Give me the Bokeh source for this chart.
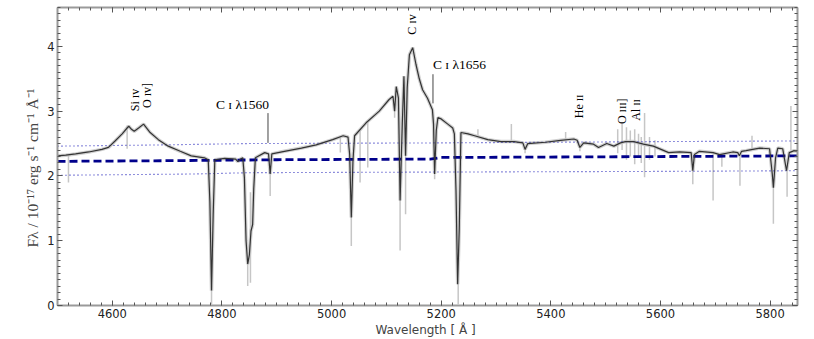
import numpy as np
from bokeh.plotting import figure
from bokeh.models import Range1d, LinearAxis, SingleIntervalTicker
from bokeh.core.properties import value
from bokeh.embed import file_html
from bokeh.resources import INLINE

# ---- smoothed spectrum (wavelength [A], flux [1e-17 erg/s/cm2/A]) ----
wave = [4500, 4515, 4533, 4557, 4581, 4593, 4605, 4618, 4627, 4630, 4635, 4640, 4648,
        4657, 4669, 4684, 4702, 4724, 4744, 4768, 4775, 4778, 4781, 4784, 4787, 4805,
        4825, 4829, 4834, 4838, 4841, 4844, 4847, 4850, 4853, 4856, 4858, 4861, 4878,
        4885, 4888, 4891, 4914, 4945, 4972, 5002, 5021, 5030, 5033, 5036, 5039, 5042,
        5063, 5087, 5105, 5112, 5115, 5118, 5122, 5125, 5129, 5132, 5135, 5138, 5142,
        5148, 5154, 5160, 5166, 5175, 5184, 5186, 5188, 5191, 5194, 5200, 5212, 5221,
        5224, 5227, 5230, 5233, 5236, 5249, 5261, 5285, 5309, 5333, 5349, 5353, 5358,
        5390, 5418, 5442, 5448, 5453, 5460, 5478, 5487, 5502, 5515, 5527, 5536, 5551,
        5569, 5587, 5615, 5635, 5656, 5659, 5662, 5671, 5696, 5708, 5732, 5741, 5744,
        5748, 5756, 5781, 5799, 5804, 5806, 5810, 5814, 5823, 5830, 5835, 5844, 5850]
flux = [2.31, 2.32, 2.34, 2.37, 2.41, 2.44, 2.54, 2.65, 2.74, 2.77, 2.72, 2.69, 2.74,
        2.80, 2.67, 2.56, 2.46, 2.38, 2.31, 2.28, 2.25, 1.60, 0.23, 1.40, 2.25, 2.27,
        2.26, 2.22, 2.26, 2.28, 1.97, 1.00, 0.64, 0.78, 1.15, 1.25, 1.80, 2.28, 2.36,
        2.34, 2.03, 2.34, 2.38, 2.43, 2.48, 2.56, 2.62, 2.60, 2.33, 1.36, 2.23, 2.62,
        2.82, 3.00, 3.18, 3.23, 3.00, 3.38, 3.20, 1.62, 2.80, 3.54, 2.31, 3.36, 3.87,
        3.98, 3.72, 3.50, 3.33, 3.20, 3.02, 2.80, 2.03, 2.70, 2.90, 2.88, 2.80, 2.74,
        2.65, 1.77, 0.33, 1.20, 2.67, 2.65, 2.62, 2.56, 2.53, 2.53, 2.51, 2.41, 2.50,
        2.52, 2.55, 2.57, 2.55, 2.44, 2.51, 2.49, 2.44, 2.50, 2.46, 2.51, 2.53, 2.53,
        2.49, 2.46, 2.36, 2.37, 2.36, 2.08, 2.33, 2.38, 2.36, 2.33, 2.37, 2.36, 2.31,
        2.38, 2.39, 2.43, 2.42, 2.03, 1.82, 2.28, 2.43, 2.42, 2.08, 2.36, 2.39, 2.38]

# ---- raw-spectrum spikes (wavelength, low, high) ----
spike_wave = [4520, 4627, 4781, 4847, 4852, 4888, 5016, 5036, 5052, 5066, 5115, 5125,
              5135, 5188, 5231, 5267, 5328, 5353, 5427, 5453, 5522, 5530, 5538, 5545,
              5553, 5560, 5565, 5571, 5580, 5590, 5659, 5696, 5712, 5745, 5767, 5806,
              5831, 5838]
spike_lo = [1.90, 2.42, 0.02, 0.30, 0.35, 1.69, 2.36, 0.92, 1.90, 2.13, 2.90, 0.85,
            1.41, 1.95, 0.02, 2.62, 2.53, 2.35, 2.55, 2.38, 2.35, 2.40, 2.25, 2.30,
            2.18, 2.30, 2.20, 1.98, 2.25, 2.30, 1.87, 1.62, 2.14, 1.85, 2.40, 1.26,
            1.68, 2.40]
spike_hi = [2.32, 2.78, 0.30, 0.70, 1.75, 2.10, 2.60, 1.40, 2.70, 2.85, 3.10, 1.70,
            2.40, 2.10, 0.40, 2.72, 2.80, 2.45, 2.68, 2.50, 2.72, 2.80, 2.75, 2.70,
            2.72, 2.65, 2.60, 2.97, 2.60, 2.55, 2.10, 2.36, 2.33, 2.31, 2.62, 1.85,
            2.10, 3.08]

# ---- continuum and its envelope ----
cont_wave = [4500, 4700, 4900, 5180, 5200, 5500, 5850]
cont_flux = [2.225, 2.235, 2.25, 2.26, 2.285, 2.295, 2.31]
upper_wave = [4500, 4700, 4850, 5200, 5600, 5850]
upper_flux = [2.46, 2.48, 2.50, 2.51, 2.53, 2.54]
lower_wave = [4500, 4750, 4850, 5200, 5600, 5850]
lower_flux = [2.01, 2.03, 2.05, 2.06, 2.07, 2.08]

# ---- line identifications ----
rot_text = ["Si ɪᴠ", "O ɪᴠ]", "C ɪᴠ", "He ɪɪ", "O ɪɪɪ]", "Al ɪɪ"]
rot_wave = [4642, 4664, 5147, 5451, 5529, 5555]
rot_flux = [3.0, 3.05, 4.18, 2.89, 2.80, 2.85]
ci_text = ["C ɪ λ1560", "C ɪ λ1656"]
ci_wave = [4884, 5185]
ci_text_flux = [3.1, 3.72]
ci_bar_lo = [2.51, 3.12]
ci_bar_hi = [2.97, 3.57]

p = figure(width=808, height=339, output_backend="svg", toolbar_location=None,
           x_range=Range1d(4500, 5850), y_range=Range1d(0, 4.6),
           min_border_left=57, min_border_right=11, min_border_top=7,
           min_border_bottom=34, background_fill_color="white",
           border_fill_color="white")
p.grid.visible = False
p.outline_line_color = None

# raw spectrum (grey)
p.line(wave, flux, line_color="#d0d0d0", line_width=3.5)
p.segment(x0=spike_wave, y0=spike_lo, x1=spike_wave, y1=spike_hi,
          line_color="#c6c6c6", line_width=1.5)
# envelope and continuum
p.line(upper_wave, upper_flux, line_color="#1c1cb8", line_width=1.1, line_dash="1 3")
p.line(lower_wave, lower_flux, line_color="#1c1cb8", line_width=1.1, line_dash="1 3")
p.line(cont_wave, cont_flux, line_color="#00008b", line_width=2.8, line_dash="8 4")
# smoothed spectrum
p.line(wave, flux, line_color="#333333", line_width=1.2)

# labels
p.text(x=rot_wave, y=rot_flux, text=rot_text, angle=np.pi / 2,
       text_font=value("Liberation Serif"), text_font_size="12px",
       text_align="left", text_baseline="middle", text_color="black")
p.text(x=ci_wave[:1], y=ci_text_flux[:1], text=ci_text[:1],
       text_font=value("Liberation Serif"), text_font_size="13.5px",
       text_align="right", text_baseline="middle", text_color="black", x_offset=1)
p.text(x=ci_wave[1:], y=ci_text_flux[1:], text=ci_text[1:],
       text_font=value("Liberation Serif"), text_font_size="13.5px",
       text_align="left", text_baseline="middle", text_color="black", x_offset=0)
p.segment(x0=ci_wave, y0=ci_bar_lo, x1=ci_wave, y1=ci_bar_hi,
          line_color="#444444", line_width=1)

def style(ax, labels=True):
    ax.axis_line_color = "#9a9a9a"
    ax.axis_line_width = 2
    ax.major_tick_in = 5
    ax.major_tick_out = 0
    ax.minor_tick_in = 3
    ax.minor_tick_out = 0
    ax.major_tick_line_color = "#555555"
    ax.minor_tick_line_color = "#555555"
    ax.major_label_text_font = "DejaVu Sans"
    if labels:
        ax.major_label_text_font_size = "11.5px"
        ax.major_label_text_color = "#222222"
        ax.major_label_standoff = 3
    else:
        ax.major_label_text_font_size = "1px"
        ax.major_label_text_color = None
        ax.major_label_standoff = 0

p.xaxis.ticker = SingleIntervalTicker(interval=200, num_minor_ticks=10)
p.yaxis.ticker = SingleIntervalTicker(interval=1, num_minor_ticks=10)
style(p.xaxis[0])
style(p.yaxis[0])
p.xaxis.axis_label = "Wavelength  [ Å ]"
p.xaxis.axis_label_text_font = "DejaVu Sans"
p.xaxis.axis_label_text_font_style = "normal"
p.xaxis.axis_label_text_font_size = "12px"
p.xaxis.axis_label_standoff = 2
p.yaxis.axis_label = "Fλ  /  10⁻¹⁷   erg s⁻¹  cm⁻¹  Å⁻¹"
p.yaxis.axis_label_text_font = "Liberation Serif"
p.yaxis.axis_label_text_font_style = "normal"
p.yaxis.axis_label_text_font_size = "15.5px"
p.yaxis.axis_label_standoff = 3

top = LinearAxis(ticker=SingleIntervalTicker(interval=200, num_minor_ticks=10))
style(top, labels=False)
p.add_layout(top, "above")
right = LinearAxis(ticker=SingleIntervalTicker(interval=1, num_minor_ticks=10))
style(right, labels=False)
p.add_layout(right, "right")

open("out.html", "w").write(file_html(p, INLINE))
